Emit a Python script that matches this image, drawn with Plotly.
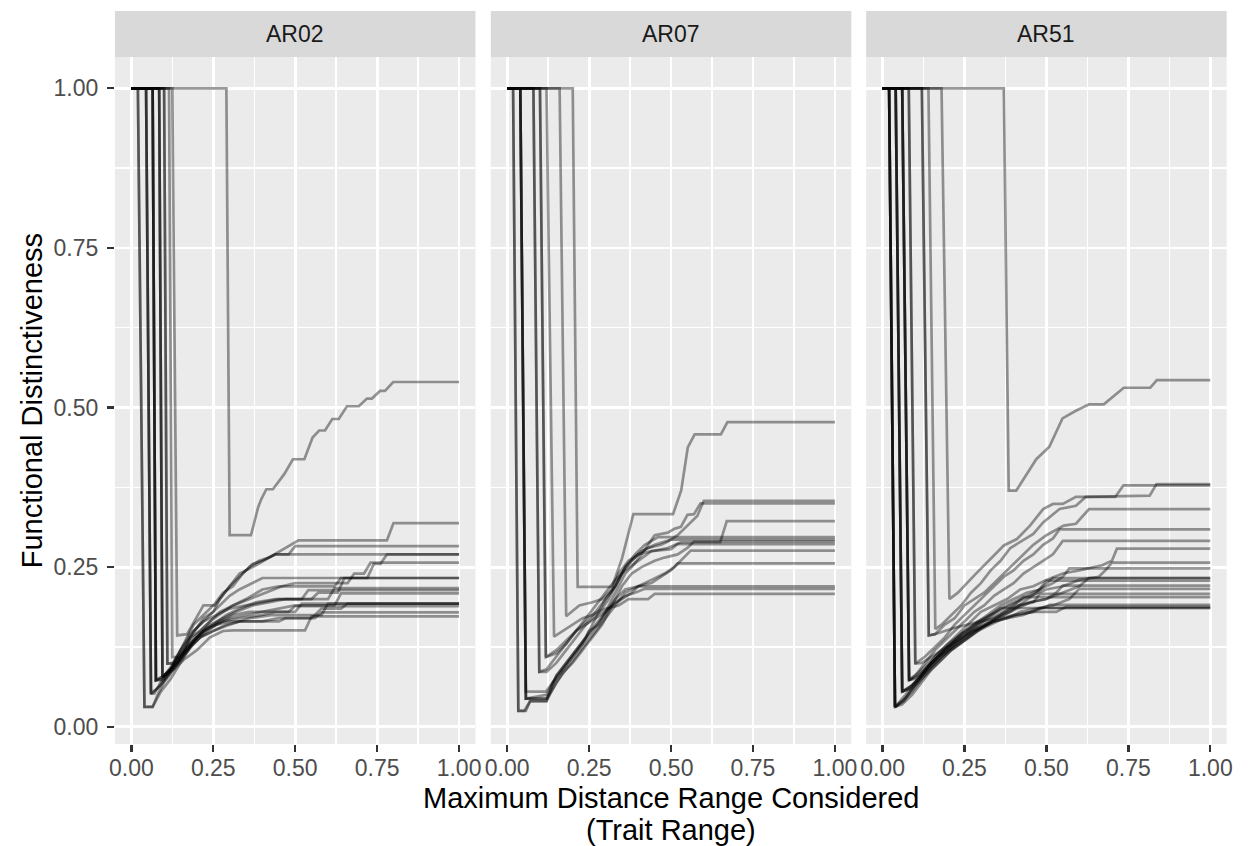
import plotly.graph_objects as go

# ---------------- data (x = max distance range, y = functional distinctiveness) ----------------
panels = ["AR02", "AR07", "AR51"]

AR02_series = [
    [[0,1],[0.29,1],[0.30,0.30],[0.365,0.30],[0.387,0.344],[0.397,0.357],[0.412,0.372],[0.432,0.372],[0.467,0.396],[0.493,0.419],[0.528,0.419],[0.553,0.453],[0.573,0.464],[0.591,0.464],[0.613,0.482],[0.633,0.482],[0.658,0.502],[0.694,0.502],[0.719,0.514],[0.734,0.514],[0.759,0.526],[0.774,0.526],[0.799,0.540],[1,0.540]],
    [[0,1],[0.125,1],[0.14,0.143],[0.17,0.145],[0.22,0.19],[0.255,0.19],[0.30,0.22],[0.33,0.24],[0.37,0.25],[0.42,0.265],[0.47,0.28],[0.51,0.292],[0.78,0.292],[0.80,0.319],[1,0.319]],
    [[0,1],[0.10,1],[0.11,0.099],[0.125,0.099],[0.15,0.12],[0.19,0.16],[0.22,0.175],[0.25,0.19],[0.28,0.21],[0.31,0.22],[0.34,0.24],[0.37,0.255],[0.40,0.26],[0.44,0.27],[0.48,0.27],[0.50,0.283],[1,0.283]],
    [[0,1],[0.065,1],[0.075,0.073],[0.09,0.073],[0.12,0.09],[0.15,0.11],[0.18,0.14],[0.22,0.17],[0.25,0.18],[0.27,0.20],[0.30,0.22],[0.33,0.235],[0.36,0.25],[0.39,0.26],[0.42,0.265],[0.44,0.27],[1,0.27]],
    [[0,1],[0.085,1],[0.095,0.078],[0.12,0.09],[0.15,0.12],[0.18,0.14],[0.21,0.15],[0.24,0.165],[0.28,0.18],[0.31,0.19],[0.35,0.20],[0.40,0.215],[0.45,0.22],[0.62,0.22],[0.64,0.233],[0.72,0.233],[0.74,0.255],[0.76,0.255],[0.78,0.27],[1,0.27]],
    [[0,1],[0.065,1],[0.075,0.073],[0.10,0.08],[0.13,0.10],[0.16,0.12],[0.19,0.14],[0.23,0.16],[0.27,0.18],[0.31,0.19],[0.36,0.20],[0.41,0.21],[0.46,0.22],[0.50,0.225],[0.66,0.225],[0.68,0.24],[0.71,0.24],[0.73,0.257],[1,0.257]],
    [[0,1],[0.045,1],[0.06,0.052],[0.07,0.052],[0.09,0.07],[0.12,0.09],[0.15,0.12],[0.18,0.145],[0.21,0.16],[0.24,0.175],[0.27,0.19],[0.30,0.205],[0.33,0.215],[0.37,0.225],[0.40,0.233],[1,0.233]],
    [[0,1],[0.085,1],[0.095,0.078],[0.11,0.085],[0.14,0.10],[0.17,0.125],[0.20,0.14],[0.24,0.16],[0.28,0.17],[0.32,0.18],[0.37,0.19],[0.42,0.195],[0.47,0.20],[0.55,0.20],[0.57,0.21],[0.63,0.21],[0.65,0.233],[1,0.233]],
    [[0,1],[0.02,1],[0.04,0.031],[0.065,0.031],[0.08,0.05],[0.10,0.07],[0.13,0.09],[0.16,0.115],[0.19,0.135],[0.22,0.15],[0.25,0.16],[0.29,0.175],[0.33,0.185],[0.38,0.195],[0.44,0.20],[0.60,0.20],[0.62,0.217],[1,0.217]],
    [[0,1],[0.10,1],[0.11,0.099],[0.13,0.10],[0.16,0.12],[0.19,0.15],[0.22,0.165],[0.26,0.175],[0.30,0.185],[0.35,0.19],[0.40,0.195],[0.45,0.20],[0.52,0.20],[0.54,0.214],[1,0.214]],
    [[0,1],[0.065,1],[0.075,0.073],[0.10,0.075],[0.13,0.095],[0.16,0.11],[0.19,0.13],[0.22,0.145],[0.26,0.16],[0.30,0.17],[0.35,0.175],[0.40,0.18],[0.45,0.185],[0.50,0.19],[0.62,0.19],[0.64,0.209],[1,0.209]],
    [[0,1],[0.045,1],[0.06,0.052],[0.08,0.06],[0.11,0.08],[0.14,0.10],[0.17,0.12],[0.20,0.14],[0.24,0.155],[0.28,0.165],[0.33,0.17],[0.40,0.175],[0.44,0.18],[0.50,0.18],[0.52,0.193],[1,0.193]],
    [[0,1],[0.085,1],[0.095,0.078],[0.12,0.09],[0.15,0.11],[0.18,0.13],[0.22,0.15],[0.26,0.16],[0.30,0.165],[0.40,0.165],[0.45,0.17],[0.55,0.17],[0.58,0.185],[0.64,0.185],[0.66,0.193],[1,0.193]],
    [[0,1],[0.115,1],[0.125,0.109],[0.145,0.109],[0.17,0.12],[0.20,0.14],[0.23,0.155],[0.27,0.165],[0.31,0.175],[0.36,0.18],[0.48,0.18],[0.50,0.189],[1,0.189]],
    [[0,1],[0.02,1],[0.04,0.031],[0.065,0.031],[0.09,0.055],[0.12,0.075],[0.15,0.10],[0.18,0.125],[0.21,0.14],[0.25,0.15],[0.29,0.16],[0.33,0.165],[0.45,0.165],[0.47,0.17],[0.56,0.17],[0.58,0.179],[1,0.179]],
    [[0,1],[0.065,1],[0.075,0.073],[0.10,0.08],[0.13,0.09],[0.16,0.105],[0.20,0.12],[0.24,0.14],[0.28,0.15],[0.31,0.151],[0.53,0.151],[0.55,0.173],[1,0.173]],
    [[0,1],[0.045,1],[0.06,0.052],[0.09,0.065],[0.12,0.085],[0.15,0.105],[0.18,0.125],[0.21,0.14],[0.25,0.15],[0.30,0.16],[0.36,0.17],[0.43,0.175],[0.58,0.175],[0.60,0.193],[1,0.193]],
]

AR07_series = [
    [[0,1],[0.20,1],[0.215,0.219],[0.32,0.219],[0.35,0.263],[0.385,0.333],[0.506,0.333],[0.531,0.37],[0.551,0.4375],[0.572,0.458],[0.652,0.458],[0.672,0.477],[1,0.477]],
    [[0,1],[0.018,1],[0.034,0.025],[0.052,0.025],[0.07,0.04],[0.12,0.04],[0.15,0.08],[0.18,0.10],[0.21,0.12],[0.24,0.14],[0.27,0.17],[0.30,0.20],[0.33,0.22],[0.36,0.25],[0.40,0.27],[0.43,0.28],[0.47,0.285],[0.49,0.29],[0.52,0.30],[0.54,0.31],[0.56,0.32],[0.58,0.33],[0.60,0.354],[1,0.354]],
    [[0,1],[0.04,1],[0.057,0.044],[0.12,0.044],[0.14,0.07],[0.17,0.09],[0.20,0.11],[0.23,0.13],[0.25,0.15],[0.28,0.16],[0.30,0.18],[0.33,0.21],[0.36,0.24],[0.38,0.25],[0.41,0.27],[0.45,0.30],[0.49,0.304],[0.51,0.31],[0.53,0.313],[0.55,0.332],[0.57,0.333],[0.59,0.35],[1,0.35]],
    [[0,1],[0.10,1],[0.118,0.109],[0.15,0.115],[0.18,0.13],[0.21,0.15],[0.24,0.17],[0.27,0.19],[0.30,0.21],[0.33,0.23],[0.36,0.245],[0.40,0.26],[0.44,0.275],[0.49,0.28],[0.53,0.289],[0.65,0.289],[0.67,0.322],[1,0.322]],
    [[0,1],[0.08,1],[0.098,0.086],[0.12,0.09],[0.15,0.11],[0.18,0.13],[0.21,0.15],[0.24,0.165],[0.27,0.18],[0.30,0.20],[0.33,0.22],[0.36,0.25],[0.39,0.27],[0.42,0.285],[0.46,0.297],[1,0.297]],
    [[0,1],[0.12,1],[0.143,0.141],[0.17,0.15],[0.20,0.16],[0.23,0.17],[0.26,0.175],[0.29,0.185],[0.31,0.20],[0.33,0.22],[0.35,0.24],[0.38,0.26],[0.41,0.275],[0.45,0.285],[0.50,0.293],[1,0.293]],
    [[0,1],[0.16,1],[0.18,0.173],[0.22,0.19],[0.26,0.195],[0.29,0.20],[0.32,0.215],[0.34,0.24],[0.37,0.26],[0.40,0.27],[0.44,0.275],[0.50,0.278],[0.52,0.286],[1,0.286]],
    [[0,1],[0.04,1],[0.057,0.044],[0.12,0.05],[0.15,0.08],[0.18,0.10],[0.21,0.12],[0.24,0.14],[0.27,0.16],[0.30,0.18],[0.33,0.20],[0.36,0.215],[0.40,0.22],[0.44,0.23],[0.48,0.24],[0.51,0.25],[0.54,0.265],[0.56,0.276],[1,0.276]],
    [[0,1],[0.018,1],[0.034,0.025],[0.057,0.025],[0.07,0.04],[0.12,0.04],[0.15,0.07],[0.18,0.09],[0.21,0.11],[0.24,0.13],[0.27,0.15],[0.30,0.17],[0.33,0.19],[0.36,0.21],[0.40,0.22],[0.44,0.225],[0.47,0.235],[0.50,0.245],[0.52,0.256],[1,0.256]],
    [[0,1],[0.04,1],[0.057,0.055],[0.118,0.055],[0.14,0.07],[0.17,0.09],[0.20,0.11],[0.23,0.13],[0.26,0.15],[0.29,0.17],[0.32,0.19],[0.35,0.20],[0.38,0.21],[0.40,0.22],[1,0.22]],
    [[0,1],[0.08,1],[0.098,0.086],[0.12,0.086],[0.15,0.10],[0.18,0.12],[0.21,0.14],[0.24,0.16],[0.27,0.17],[0.30,0.18],[0.33,0.195],[0.36,0.205],[0.39,0.21],[0.42,0.216],[1,0.216]],
    [[0,1],[0.10,1],[0.118,0.109],[0.15,0.12],[0.18,0.135],[0.21,0.15],[0.24,0.16],[0.27,0.175],[0.30,0.185],[0.34,0.19],[0.37,0.20],[0.43,0.20],[0.45,0.208],[1,0.208]],
    [[0,1],[0.04,1],[0.057,0.044],[0.12,0.044],[0.14,0.06],[0.17,0.085],[0.20,0.10],[0.23,0.12],[0.26,0.14],[0.29,0.16],[0.32,0.19],[0.35,0.22],[0.38,0.24],[0.41,0.25],[0.45,0.26],[0.48,0.265],[0.52,0.27],[0.55,0.28],[0.57,0.29],[1,0.29]],
]

AR51_series = [
    [[0,1],[0.37,1],[0.385,0.37],[0.408,0.37],[0.469,0.419],[0.509,0.4385],[0.549,0.483],[0.59,0.495],[0.63,0.505],[0.675,0.505],[0.736,0.531],[0.817,0.531],[0.837,0.543],[1,0.543]],
    [[0,1],[0.18,1],[0.204,0.20],[0.23,0.21],[0.28,0.237],[0.32,0.258],[0.37,0.284],[0.41,0.294],[0.45,0.315],[0.49,0.341],[0.52,0.349],[0.55,0.349],[0.59,0.36],[0.71,0.36],[0.735,0.378],[1,0.378]],
    [[0,1],[0.14,1],[0.161,0.153],[0.18,0.16],[0.21,0.175],[0.24,0.19],[0.27,0.21],[0.30,0.225],[0.33,0.245],[0.36,0.26],[0.39,0.28],[0.42,0.29],[0.46,0.302],[0.49,0.32],[0.54,0.341],[0.59,0.346],[0.62,0.36],[0.815,0.362],[0.836,0.38],[1,0.38]],
    [[0,1],[0.12,1],[0.141,0.143],[0.16,0.145],[0.19,0.16],[0.22,0.17],[0.25,0.19],[0.28,0.20],[0.31,0.21],[0.34,0.225],[0.37,0.24],[0.40,0.255],[0.43,0.27],[0.46,0.285],[0.50,0.30],[0.553,0.315],[0.59,0.318],[0.63,0.341],[1,0.341]],
    [[0,1],[0.08,1],[0.10,0.099],[0.13,0.11],[0.16,0.125],[0.19,0.14],[0.22,0.16],[0.25,0.175],[0.28,0.19],[0.31,0.205],[0.34,0.22],[0.37,0.235],[0.40,0.245],[0.43,0.26],[0.46,0.27],[0.49,0.285],[0.52,0.295],[0.54,0.309],[1,0.309]],
    [[0,1],[0.06,1],[0.081,0.073],[0.10,0.08],[0.13,0.10],[0.16,0.12],[0.19,0.135],[0.22,0.15],[0.25,0.165],[0.28,0.18],[0.31,0.19],[0.34,0.205],[0.37,0.215],[0.40,0.225],[0.43,0.24],[0.46,0.25],[0.49,0.26],[0.52,0.27],[0.55,0.291],[1,0.291]],
    [[0,1],[0.02,1],[0.038,0.031],[0.07,0.05],[0.10,0.07],[0.13,0.09],[0.16,0.11],[0.19,0.125],[0.22,0.14],[0.26,0.16],[0.30,0.18],[0.34,0.19],[0.38,0.20],[0.42,0.215],[0.46,0.22],[0.50,0.23],[0.55,0.24],[0.60,0.245],[0.67,0.253],[0.70,0.26],[0.715,0.279],[1,0.279]],
    [[0,1],[0.04,1],[0.06,0.055],[0.09,0.065],[0.12,0.08],[0.15,0.10],[0.18,0.115],[0.21,0.13],[0.25,0.15],[0.29,0.165],[0.33,0.175],[0.37,0.185],[0.41,0.195],[0.45,0.205],[0.50,0.215],[0.55,0.22],[0.60,0.23],[0.66,0.235],[0.68,0.245],[0.70,0.257],[1,0.257]],
    [[0,1],[0.06,1],[0.081,0.073],[0.11,0.085],[0.14,0.10],[0.17,0.115],[0.20,0.13],[0.24,0.145],[0.28,0.16],[0.32,0.175],[0.36,0.19],[0.40,0.20],[0.44,0.21],[0.48,0.215],[0.52,0.225],[0.55,0.235],[0.57,0.248],[1,0.248]],
    [[0,1],[0.02,1],[0.038,0.031],[0.06,0.04],[0.09,0.055],[0.12,0.075],[0.15,0.095],[0.18,0.11],[0.21,0.125],[0.25,0.14],[0.29,0.155],[0.33,0.165],[0.37,0.175],[0.41,0.185],[0.45,0.195],[0.50,0.20],[0.55,0.21],[0.60,0.22],[0.63,0.233],[1,0.233]],
    [[0,1],[0.04,1],[0.06,0.055],[0.08,0.06],[0.11,0.075],[0.14,0.095],[0.17,0.11],[0.20,0.125],[0.24,0.14],[0.28,0.155],[0.32,0.17],[0.36,0.185],[0.40,0.195],[0.44,0.205],[0.48,0.215],[0.52,0.233],[1,0.233]],
    [[0,1],[0.06,1],[0.081,0.073],[0.10,0.075],[0.13,0.09],[0.16,0.105],[0.19,0.12],[0.23,0.135],[0.27,0.15],[0.31,0.16],[0.35,0.17],[0.39,0.18],[0.43,0.195],[0.47,0.21],[0.50,0.229],[1,0.229]],
    [[0,1],[0.08,1],[0.10,0.099],[0.12,0.10],[0.15,0.11],[0.18,0.12],[0.21,0.13],[0.25,0.145],[0.29,0.16],[0.33,0.17],[0.37,0.18],[0.41,0.19],[0.45,0.195],[0.50,0.20],[0.53,0.21],[0.55,0.221],[1,0.221]],
    [[0,1],[0.02,1],[0.038,0.031],[0.07,0.045],[0.10,0.065],[0.13,0.085],[0.16,0.10],[0.19,0.115],[0.22,0.13],[0.26,0.145],[0.30,0.155],[0.34,0.165],[0.38,0.17],[0.42,0.18],[0.47,0.185],[0.52,0.19],[0.57,0.20],[0.60,0.216],[1,0.216]],
    [[0,1],[0.12,1],[0.141,0.143],[0.16,0.145],[0.19,0.15],[0.22,0.155],[0.26,0.16],[0.30,0.165],[0.34,0.17],[0.38,0.18],[0.42,0.19],[0.46,0.195],[0.48,0.208],[1,0.208]],
    [[0,1],[0.04,1],[0.06,0.055],[0.09,0.06],[0.12,0.075],[0.15,0.09],[0.18,0.105],[0.21,0.12],[0.25,0.135],[0.29,0.15],[0.33,0.165],[0.37,0.18],[0.40,0.19],[0.43,0.203],[1,0.203]],
    [[0,1],[0.02,1],[0.038,0.031],[0.06,0.035],[0.09,0.05],[0.12,0.07],[0.15,0.09],[0.18,0.105],[0.21,0.12],[0.25,0.135],[0.29,0.15],[0.33,0.16],[0.37,0.17],[0.41,0.175],[0.46,0.18],[0.51,0.191],[1,0.191]],
    [[0,1],[0.06,1],[0.081,0.073],[0.11,0.08],[0.14,0.095],[0.17,0.11],[0.20,0.12],[0.24,0.135],[0.28,0.15],[0.32,0.16],[0.36,0.17],[0.40,0.175],[0.46,0.18],[0.53,0.18],[0.56,0.188],[1,0.188]],
    [[0,1],[0.02,1],[0.038,0.031],[0.065,0.04],[0.09,0.06],[0.12,0.08],[0.15,0.10],[0.18,0.115],[0.21,0.13],[0.24,0.145],[0.27,0.155],[0.30,0.165],[0.33,0.175],[0.36,0.186],[1,0.186]],
    [[0,1],[0.04,1],[0.06,0.055],[0.09,0.065],[0.12,0.08],[0.15,0.095],[0.18,0.11],[0.22,0.125],[0.26,0.14],[0.30,0.155],[0.34,0.165],[0.38,0.17],[0.43,0.175],[0.48,0.186],[1,0.186]],
]

tick_vals = [0, 0.25, 0.5, 0.75, 1.0]
tick_text = ["0.00", "0.25", "0.50", "0.75", "1.00"]
minor_vals = [0.125, 0.375, 0.625, 0.875]
x_title_lines = ["Maximum Distance Range Considered", "(Trait Range)"]
y_title = "Functional Distinctiveness"

# ---------------- layout geometry (pixels) ----------------
W, H = 1250, 846
panel_px = [(110, 474), (489.5, 853.5), (868.5, 1232.5)]
panel_top, panel_bot = 57, 744
strip_top = 11

FONT = "Liberation Sans, Arial, Helvetica, sans-serif"
LINE_COLOR = "rgba(0,0,0,0.4)"

fig = go.Figure()
all_series = [AR02_series, AR07_series, AR51_series]
for i, series in enumerate(all_series):
    ax = "" if i == 0 else str(i + 1)
    for s in series:
        fig.add_trace(go.Scatter(
            x=[p[0] for p in s], y=[p[1] for p in s], mode="lines",
            line=dict(color=LINE_COLOR, width=2.7),
            xaxis="x" + ax, yaxis="y" + ax, showlegend=False, hoverinfo="skip"))

ydom = [1 - panel_bot / H, 1 - panel_top / H]
layout = dict(
    width=W, height=H, margin=dict(l=0, r=0, t=0, b=0),
    paper_bgcolor="white", plot_bgcolor="#EBEBEB",
    font=dict(family=FONT),
    shapes=[], annotations=[],
)
for i, (l, r) in enumerate(panel_px):
    ax = "" if i == 0 else str(i + 1)
    layout["xaxis" + ax] = dict(
        domain=[l / W, r / W], range=[-0.05, 1.05], anchor="y" + ax,
        tickmode="array", tickvals=tick_vals, ticktext=tick_text,
        showgrid=True, gridcolor="white", gridwidth=2.8, zeroline=False,
        minor=dict(tickmode="array", tickvals=minor_vals, showgrid=True,
                   gridcolor="white", gridwidth=1.4, ticks=""),
        ticks="outside", ticklen=7, tickwidth=2.4, tickcolor="#333333",
        ticklabelstandoff=-4,
        tickfont=dict(size=23, color="#4D4D4D", family=FONT), showline=False,
    )
    layout["yaxis" + ax] = dict(
        domain=ydom, range=[-0.027, 1.049], anchor="x" + ax,
        tickmode="array", tickvals=tick_vals, ticktext=tick_text,
        showgrid=True, gridcolor="white", gridwidth=2.8, zeroline=False,
        minor=dict(tickmode="array", tickvals=minor_vals, showgrid=True,
                   gridcolor="white", gridwidth=1.4, ticks=""),
        ticks="outside" if i == 0 else "", ticklen=7, tickwidth=2.4, tickcolor="#333333",
        showticklabels=(i == 0), ticklabelstandoff=4,
        tickfont=dict(size=23, color="#4D4D4D", family=FONT), showline=False,
    )
    layout["shapes"].append(dict(
        type="rect", xref="paper", yref="paper",
        x0=l / W, x1=r / W, y0=1 - panel_top / H, y1=1 - strip_top / H,
        fillcolor="#D9D9D9", line=dict(width=0), layer="below"))
    layout["annotations"].append(dict(
        text=panels[i], xref="paper", yref="paper",
        x=(l + r) / 2 / W, y=1 - (strip_top + panel_top) / 2 / H,
        xanchor="center", yanchor="middle", showarrow=False,
        font=dict(size=23, color="#1A1A1A", family=FONT)))

layout["annotations"].append(dict(
    text=y_title, xref="paper", yref="paper", x=27 / W, y=1 - (panel_top + panel_bot) / 2 / H,
    textangle=-90, xanchor="center", yanchor="middle", showarrow=False,
    font=dict(size=29, color="black", family=FONT)))
for k, (txt, py) in enumerate(zip(x_title_lines, [798, 830])):
    layout["annotations"].append(dict(
        text=txt, xref="paper", yref="paper", x=(panel_px[0][0] + panel_px[2][1]) / 2 / W,
        y=1 - py / H, xanchor="center", yanchor="middle", showarrow=False,
        font=dict(size=29, color="black", family=FONT)))

fig.update_layout(**layout)
fig.write_html(
    "out.html",
    config={"displayModeBar": False, "staticPlot": True},
    post_script="document.body.style.margin='0px';document.body.style.overflow='hidden';",
)
